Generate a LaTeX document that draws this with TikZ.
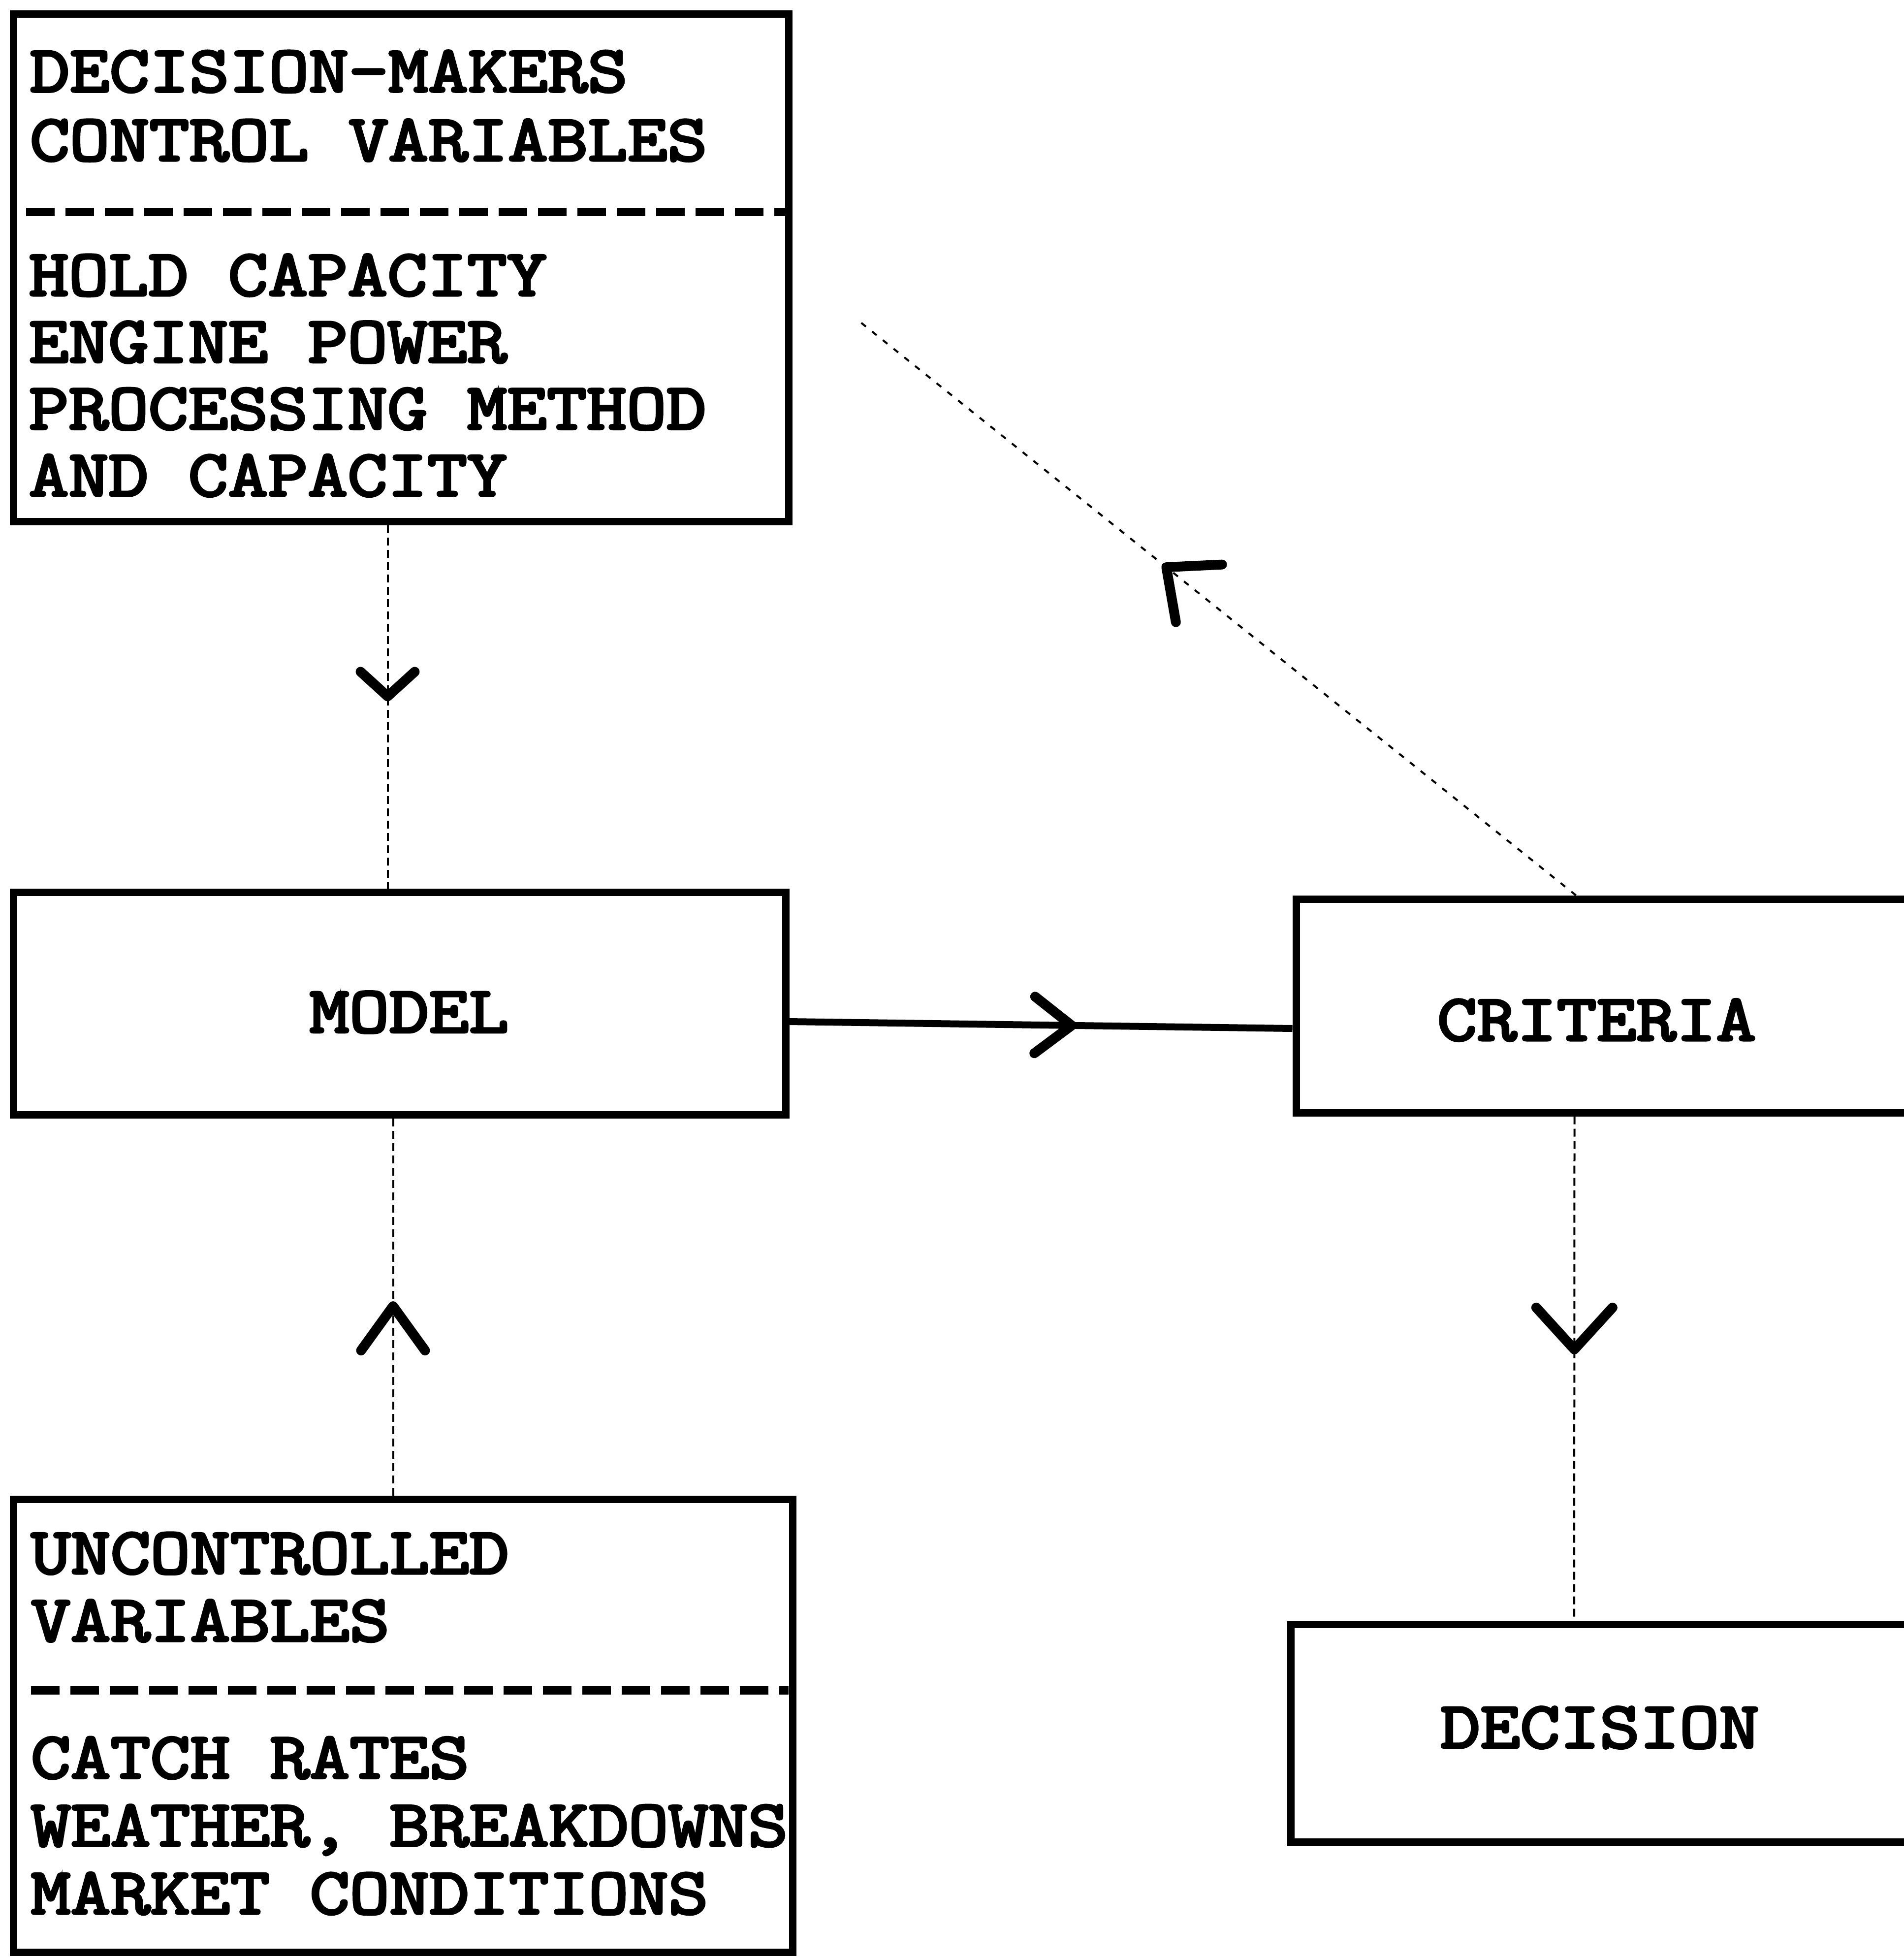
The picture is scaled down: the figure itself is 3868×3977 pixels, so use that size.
\documentclass[tikz,border=0pt]{standalone}
\usepackage{fontspec}
% slab-serif typewriter face, widened to a 0.6 em pitch and thickened
\newfontfamily\typewriter[FakeStretch=1.18, FakeBold=4]{Latin Modern Mono}
\usetikzlibrary{arrows.meta,decorations.markings,calc}

\tikzset{
  box/.style={draw, rectangle, line width=1.5mm, inner sep=0pt},
  txt/.style={inner sep=0pt, font=\typewriter\fontsize{37.9}{#1}\selectfont},
  txt/.default=38.4pt,
  % multi-line blocks are placed by the baseline of their last line
  list/.style={txt=#1, align=left, anchor=base west},
  typedrule/.style={line width=1.7mm, dash pattern=on 5.8mm off 2.2mm},
  link/.style={line width=0.4mm, dash pattern=on 1.6mm off 0.9mm},
  flow/.style={line width=1.4mm},
  midtip/.style n args={3}{postaction={solid, decorate, decoration={markings,
      mark=at position #1 with {\arrow{Straight Barb[length=#2, width=#3, line width=2mm, round]}}}}}
}

\begin{document}
\begin{tikzpicture}[x=0.1mm, y=-0.1mm]
  \useasboundingbox (0,0) rectangle (3868,3977);
  \clip (0,0) rectangle (3868,3977);

  % boxes
  \node[box, minimum width=157.5mm, minimum height=103.1mm] (ctrl) at (814.5,543.5) {};
  \node[box, minimum width=156.9mm, minimum height=45.2mm,
        label={[txt, xshift=1.95mm, yshift=-1.8mm]center:MODEL}] (model) at (811.5,2038) {};
  \node[box, minimum width=125.7mm, minimum height=43.4mm,
        label={[txt, xshift=-1.8mm, yshift=-2.9mm]center:CRITERIA}] (crit) at (3261.5,2043) {};
  \node[box, minimum width=126.8mm, minimum height=44.2mm,
        label={[txt, xshift=-0.6mm, yshift=1.1mm]center:DECISION}] (dec) at (3256,3520) {};
  \node[box, minimum width=158.3mm, minimum height=92mm] (unc) at (818.5,3505) {};

  % text of the two variable boxes
  \node[list=39.8pt] (ctrlhead) at (60,326) {DECISION-MAKERS\\CONTROL VARIABLES};
  \node[list=38.6pt] (ctrllist) at (58,1007) {HOLD CAPACITY\\ENGINE POWER\\PROCESSING METHOD\\AND CAPACITY};
  \node[list=39pt] (unchead) at (62,3333) {UNCONTROLLED\\VARIABLES};
  \node[list=39.2pt] (unclist) at (62,3887) {CATCH RATES\\WEATHER, BREAKDOWNS\\MARKET CONDITIONS};

  % typed separator rules
  \draw[typedrule] ($(ctrl.north west)+(33,410)$) -- ($(ctrl.north east)+(-12,410)$);
  \draw[typedrule] ($(unc.north west)+(43,396)$) -- ($(unc.north east)+(-16,396)$);

  % connectors
  \draw[link, midtip={0.485}{5mm}{11mm}]
    ($(ctrl.south)+(-27,0)$) -- ($(model.north)+(-24,0)$);
  \draw[link, midtip={0.515}{9mm}{13mm}]
    ($(unc.north)+(-20,0)$) -- ($(model.south)+(-13,0)$);
  \draw[flow, midtip={0.571}{7.5mm}{11.5mm}]
    ($(model.east)+(0,37)$) -- ($(crit.west)+(0,46)$);
  \draw[link, midtip={0.472}{8.5mm}{15.5mm}]
    ($(crit.south)+(-63,0)$) -- ($(dec.north)+(-58,0)$);
  \coordinate (fbstart) at ($(crit.north)+(-60,0)$);
  \draw[link, dash pattern=on 1.2mm off 1.6mm, midtip={0.576}{8.5mm}{15mm}]
    (fbstart) -- ($(fbstart)!0.916!(ctrl.east)$);
\end{tikzpicture}
\end{document}
